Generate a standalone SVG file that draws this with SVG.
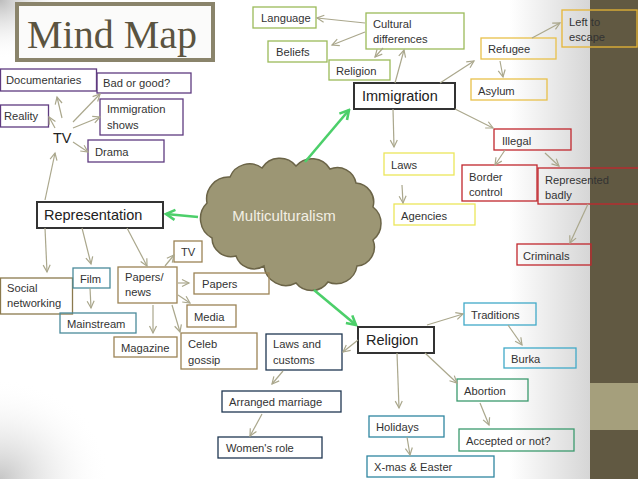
<svg xmlns="http://www.w3.org/2000/svg" width="638" height="479" viewBox="0 0 638 479">
<style>
.bx{fill:none;stroke-width:1.3}
.lb{font-family:"Liberation Sans",Arial,sans-serif;font-size:11.2px;fill:#333}
.big{font-family:"Liberation Sans",Arial,sans-serif;font-size:14.5px;fill:#222}
.main{fill:none;stroke:#333;stroke-width:2}
.pu{stroke:#5f3b80}.gr{stroke:#9bbb59}.go{stroke:#e8c04a}.ye{stroke:#ece65a}.rd{stroke:#c0272d}
.br{stroke:#9b8355}.tl{stroke:#4a8a9a}.cy{stroke:#41aac8}.tk{stroke:#2f86a0}.gn{stroke:#3b9a6e}.nv{stroke:#1f3752}
.cn line{stroke:#aaa78c;stroke-width:1.2;marker-end:url(#ah)}
.gc line{stroke:#4ccf6a;stroke-width:2.6;marker-end:url(#gh)}
</style>
<defs>
<marker id="ah" viewBox="-9 -6 11 12" refX="0" refY="0" markerWidth="11" markerHeight="12" markerUnits="userSpaceOnUse" orient="auto">
<path d="M-7,-3.5 L0,0 L-7,3.5" fill="none" stroke="#aaa78c" stroke-width="1.2"/>
</marker>
<marker id="gh" viewBox="-11 -7 13 14" refX="0" refY="0" markerWidth="13" markerHeight="14" markerUnits="userSpaceOnUse" orient="auto">
<path d="M-9,-5 L0,0 L-9,5" fill="none" stroke="#4ccf6a" stroke-width="2.6"/>
</marker>
<linearGradient id="rg" x1="0" y1="0" x2="1" y2="0">
<stop offset="0" stop-color="#d6d6d6" stop-opacity="0"/>
<stop offset="1" stop-color="#d6d6d6" stop-opacity="1"/>
</linearGradient>
<radialGradient id="tl" cx="0" cy="0" r="1" gradientUnits="objectBoundingBox">
<stop offset="0" stop-color="#bdbdbd"/>
<stop offset="1" stop-color="#ffffff" stop-opacity="0"/>
</radialGradient>
<radialGradient id="bl" cx="0" cy="1" r="1" gradientUnits="objectBoundingBox">
<stop offset="0" stop-color="#c6c6c6"/>
<stop offset="1" stop-color="#ffffff" stop-opacity="0"/>
</radialGradient>
</defs>
<rect width="638" height="479" fill="#ffffff"/>
<rect x="510" y="0" width="80" height="479" fill="url(#rg)"/>
<rect x="0" y="0" width="70" height="60" fill="url(#tl)"/>
<rect x="0" y="379" width="110" height="100" fill="url(#bl)"/>
<rect x="590" y="0" width="48" height="479" fill="#615942"/>
<rect x="590" y="383" width="48" height="47" fill="#a59f7c"/>

<g id="title">
<rect x="17" y="4" width="196" height="56" fill="#fbfbfa" stroke="#8a846b" stroke-width="4"/>
<text x="27" y="48" font-family="'Liberation Serif','Times New Roman',serif" font-size="40" fill="#5b5440">Mind Map</text>
</g>

<g id="cloud">
<path d="M207,203 A22,22 0 0 1 230,177 A21,21 0 0 1 262,168 A21,21 0 0 1 296,166 A21,21 0 0 1 330,169 A19,19 0 0 1 356,183 A19,19 0 0 1 373,207 A21,21 0 0 1 373,240 A19,19 0 0 1 357,266 A21,21 0 0 1 328,282 A20,20 0 0 1 296,283 A22,22 0 0 1 264,266 A19,19 0 0 1 236,256 A19,19 0 0 1 212,238 A22,22 0 0 1 207,203 Z" fill="#9c9674" stroke="#6b6447" stroke-width="1.5"/>
<text x="284" y="221" text-anchor="middle" font-family="'Liberation Sans',Arial,sans-serif" font-size="15" fill="#f2efe4">Multiculturalism</text>
</g>

<g id="n-docs"><rect class="bx pu" x="0.5" y="69" width="96" height="22"/><text class="lb" x="6" y="84">Documentaries</text></g>
<g id="n-bad"><rect class="bx pu" x="97" y="73" width="94" height="20"/><text class="lb" x="103" y="87">Bad or good?</text></g>
<g id="n-reality"><rect class="bx pu" x="0.5" y="105" width="48" height="22"/><text class="lb" x="4" y="120">Reality</text></g>
<g id="n-immshows"><rect class="bx pu" x="100" y="99" width="83" height="36"/><text class="lb" x="107" y="113">Immigration</text><text class="lb" x="107" y="129">shows</text></g>
<g id="n-drama"><rect class="bx pu" x="88" y="140" width="76" height="22"/><text class="lb" x="95" y="156">Drama</text></g>
<g id="n-tv"><text class="big" x="53" y="143" font-size="14">TV</text></g>

<g id="n-representation"><rect class="main" x="37" y="202" width="126" height="26"/><text class="big" x="44" y="220">Representation</text></g>
<g id="n-social"><rect class="bx" stroke="#8b7a4e" x="0.5" y="278" width="72" height="36"/><text class="lb" x="7" y="292">Social</text><text class="lb" x="7" y="307">networking</text></g>
<g id="n-film"><rect class="bx tl" x="73" y="268" width="37" height="20"/><text class="lb" x="80" y="283">Film</text></g>
<g id="n-mainstream"><rect class="bx tl" x="60" y="313" width="76" height="20"/><text class="lb" x="67" y="328">Mainstream</text></g>
<g id="n-papersnews"><rect class="bx br" x="118" y="267" width="59" height="36"/><text class="lb" x="125" y="281">Papers/</text><text class="lb" x="125" y="296">news</text></g>
<g id="n-tv2"><rect class="bx br" x="174" y="241" width="28" height="21"/><text class="lb" x="181" y="256">TV</text></g>
<g id="n-papers"><rect class="bx br" x="194" y="273" width="75" height="21"/><text class="lb" x="202" y="288">Papers</text></g>
<g id="n-media"><rect class="bx br" x="187" y="305" width="49" height="22"/><text class="lb" x="194" y="321">Media</text></g>
<g id="n-magazine"><rect class="bx br" x="114" y="337" width="63" height="20"/><text class="lb" x="121" y="352">Magazine</text></g>
<g id="n-celeb"><rect class="bx br" x="181" y="333" width="76" height="36"/><text class="lb" x="188" y="348">Celeb</text><text class="lb" x="188" y="364">gossip</text></g>

<g id="n-religion"><rect class="main" x="358" y="327" width="76" height="26"/><text class="big" x="366" y="345">Religion</text></g>
<g id="n-lawscustoms"><rect class="bx nv" x="266" y="334" width="76" height="36"/><text class="lb" x="273" y="348">Laws and</text><text class="lb" x="273" y="364">customs</text></g>
<g id="n-arranged"><rect class="bx nv" x="222" y="391" width="119" height="21"/><text class="lb" x="229" y="406">Arranged marriage</text></g>
<g id="n-women"><rect class="bx nv" x="218" y="437" width="104" height="21"/><text class="lb" x="226" y="452">Women's role</text></g>
<g id="n-holidays"><rect class="bx tk" x="369" y="416" width="75" height="21"/><text class="lb" x="376" y="431">Holidays</text></g>
<g id="n-xmas"><rect class="bx tk" x="367" y="456" width="127" height="21"/><text class="lb" x="374" y="471">X-mas &amp; Easter</text></g>
<g id="n-traditions"><rect class="bx cy" x="464" y="303" width="72" height="22"/><text class="lb" x="471" y="319">Traditions</text></g>
<g id="n-burka"><rect class="bx cy" x="504" y="348" width="72" height="20"/><text class="lb" x="511" y="363">Burka</text></g>
<g id="n-abortion"><rect class="bx gn" x="457" y="379" width="71" height="22"/><text class="lb" x="464" y="395">Abortion</text></g>
<g id="n-accepted"><rect class="bx gn" x="459" y="429" width="115" height="22"/><text class="lb" x="466" y="445">Accepted or not?</text></g>

<g id="n-immigration"><rect class="main" x="354" y="83" width="101" height="26"/><text class="big" x="362" y="101">Immigration</text></g>
<g id="n-language"><rect class="bx gr" x="253" y="7" width="63" height="21"/><text class="lb" x="261" y="22">Language</text></g>
<g id="n-beliefs"><rect class="bx gr" x="268" y="41" width="59" height="21"/><text class="lb" x="276" y="56">Beliefs</text></g>
<g id="n-cultural"><rect class="bx gr" x="366" y="13" width="98" height="36"/><text class="lb" x="373" y="28">Cultural</text><text class="lb" x="373" y="43">differences</text></g>
<g id="n-religion2"><rect class="bx gr" x="329" y="60" width="61" height="20"/><text class="lb" x="336" y="75">Religion</text></g>
<g id="n-refugee"><rect class="bx go" x="481" y="38" width="75" height="21"/><text class="lb" x="488" y="53">Refugee</text></g>
<g id="n-left"><rect class="bx" stroke="#e6b535" x="562" y="10" width="75" height="37"/><text class="lb" x="569" y="26">Left to</text><text class="lb" x="569" y="41">escape</text></g>
<g id="n-asylum"><rect class="bx go" x="471" y="79" width="76" height="21"/><text class="lb" x="478" y="95">Asylum</text></g>
<g id="n-laws"><rect class="bx ye" x="384" y="153" width="70" height="22"/><text class="lb" x="391" y="169">Laws</text></g>
<g id="n-agencies"><rect class="bx ye" x="394" y="204" width="81" height="21"/><text class="lb" x="401" y="220">Agencies</text></g>
<g id="n-illegal"><rect class="bx rd" x="494" y="129" width="77" height="21"/><text class="lb" x="502" y="145">Illegal</text></g>
<g id="n-border"><rect class="bx rd" x="462" y="165" width="75" height="36"/><text class="lb" x="469" y="181">Border</text><text class="lb" x="469" y="196">control</text></g>
<g id="n-represented"><rect class="bx rd" x="538" y="168" width="102" height="36"/><text class="lb" x="545" y="184">Represented</text><text class="lb" x="545" y="199">badly</text></g>
<g id="n-criminals"><rect class="bx rd" x="517" y="244" width="74" height="21"/><text class="lb" x="523" y="260">Criminals</text></g>

<g id="connectors">
<g class="cn">
<line x1="62" y1="118" x2="57" y2="97"/>
<line x1="55" y1="128" x2="49" y2="117"/>
<line x1="73" y1="122" x2="100" y2="94"/>
<line x1="73" y1="128" x2="100" y2="117"/>
<line x1="73" y1="142" x2="88" y2="152"/>
<line x1="45" y1="200" x2="55" y2="153"/>
<line x1="45" y1="228" x2="47" y2="272"/>
<line x1="82" y1="228" x2="91" y2="264"/>
<line x1="127" y1="228" x2="147" y2="266"/>
<line x1="90" y1="288" x2="91" y2="308"/>
<line x1="165" y1="266" x2="174" y2="255"/>
<line x1="178" y1="283" x2="189" y2="283"/>
<line x1="178" y1="295" x2="190" y2="303"/>
<line x1="153" y1="305" x2="153" y2="333"/>
<line x1="172" y1="305" x2="180" y2="332"/>
<line x1="358" y1="340" x2="343" y2="352"/>
<line x1="283" y1="371" x2="272" y2="384"/>
<line x1="262" y1="414" x2="250" y2="436"/>
<line x1="397" y1="353" x2="399" y2="408"/>
<line x1="407" y1="437" x2="410" y2="455"/>
<line x1="427" y1="325" x2="463" y2="314"/>
<line x1="508" y1="325" x2="522" y2="345"/>
<line x1="425" y1="353" x2="457" y2="383"/>
<line x1="480" y1="403" x2="489" y2="425"/>
<line x1="365" y1="23" x2="317" y2="18"/>
<line x1="365" y1="32" x2="332" y2="45"/>
<line x1="383" y1="48" x2="375" y2="57"/>
<line x1="395" y1="83" x2="404" y2="50"/>
<line x1="393" y1="109" x2="394" y2="147"/>
<line x1="402" y1="185" x2="403" y2="203"/>
<line x1="455" y1="109" x2="493" y2="128"/>
<line x1="505" y1="150" x2="495" y2="165"/>
<line x1="545" y1="153" x2="559" y2="166"/>
<line x1="588" y1="204" x2="570" y2="243"/>
<line x1="532" y1="38" x2="560" y2="23"/>
<line x1="500" y1="61" x2="503" y2="77"/>
<line x1="440" y1="83" x2="474" y2="61"/>
</g>
<g class="gc">
<line x1="305" y1="162" x2="349" y2="110"/>
<line x1="198" y1="217" x2="166" y2="214"/>
<line x1="314" y1="290" x2="356" y2="325"/>
</g>
</g>
</svg>
